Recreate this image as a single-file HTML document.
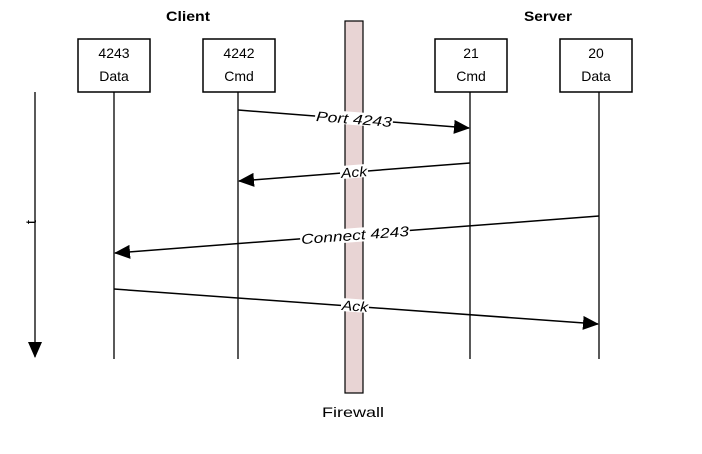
<!DOCTYPE html>
<html><head><style>body{margin:0;background:#fff}</style></head><body>
<svg width="702" height="449" xmlns="http://www.w3.org/2000/svg" font-family="Liberation Sans, sans-serif">
<defs><marker id="b" markerWidth="16" markerHeight="14" refX="15" refY="7" orient="auto" markerUnits="userSpaceOnUse"><path d="M0,0 L16,7 L0,14z" fill="#000"/></marker></defs>
<text x="188" y="21" font-size="14" font-weight="bold" text-anchor="middle" textLength="44" lengthAdjust="spacingAndGlyphs">Client</text>
<text x="548" y="21" font-size="14" font-weight="bold" text-anchor="middle" textLength="48" lengthAdjust="spacingAndGlyphs">Server</text>
<rect x="345" y="21" width="18" height="372" fill="#e8d4d4" stroke="#000" stroke-width="1.2"/>
<text x="353" y="417" font-size="14" text-anchor="middle" textLength="62" lengthAdjust="spacingAndGlyphs">Firewall</text>
<g stroke="#000" stroke-width="1.3">
<line x1="114" y1="92" x2="114" y2="359"/><line x1="238" y1="92" x2="238" y2="359"/>
<line x1="470" y1="92" x2="470" y2="359"/><line x1="599" y1="92" x2="599" y2="359"/>
<line x1="35" y1="92" x2="35" y2="357" marker-end="url(#b)"/>
</g>
<g fill="#fff" stroke="#000" stroke-width="1.5">
<rect x="78" y="39" width="72" height="53"/><rect x="203" y="39" width="72" height="53"/>
<rect x="435" y="39" width="72" height="53"/><rect x="560" y="39" width="72" height="53"/>
</g>
<g font-size="14" text-anchor="middle">
<text x="114" y="58">4243</text><text x="114" y="81">Data</text>
<text x="239" y="58">4242</text><text x="239" y="81">Cmd</text>
<text x="471" y="58">21</text><text x="471" y="81">Cmd</text>
<text x="596" y="58">20</text><text x="596" y="81">Data</text>
</g>
<g stroke="#000" stroke-width="1.5">
<line x1="238" y1="110" x2="469" y2="128" marker-end="url(#b)"/>
<line x1="470" y1="163" x2="239" y2="181" marker-end="url(#b)"/>
<line x1="599" y1="216" x2="115" y2="253" marker-end="url(#b)"/>
<line x1="114" y1="289" x2="598" y2="324" marker-end="url(#b)"/>
</g>
<g font-size="14" font-style="italic" text-anchor="middle">
<rect x="315" y="112" width="78" height="13" fill="#fff" transform="rotate(4.5 354 119)"/>
<text x="354" y="124" transform="rotate(4.5 354 119)" textLength="76" lengthAdjust="spacingAndGlyphs">Port 4243</text>
<rect x="340" y="165" width="28" height="13" fill="#fff" transform="rotate(-4.5 354 172)"/>
<text x="354" y="177" transform="rotate(-4.5 354 172)" textLength="26" lengthAdjust="spacingAndGlyphs">Ack</text>
<rect x="300" y="228" width="110" height="14" fill="#fff" transform="rotate(-4.4 355 235)"/>
<text x="355" y="240" transform="rotate(-4.4 355 235)" textLength="108" lengthAdjust="spacingAndGlyphs">Connect 4243</text>
<rect x="341" y="299" width="28" height="13" fill="#fff" transform="rotate(4.1 355 306)"/>
<text x="355" y="311" transform="rotate(4.1 355 306)" textLength="26" lengthAdjust="spacingAndGlyphs">Ack</text>
</g>
<text x="0" y="0" font-size="15" text-anchor="middle" transform="translate(36 222) rotate(-90)">t</text>
</svg>
</body></html>
